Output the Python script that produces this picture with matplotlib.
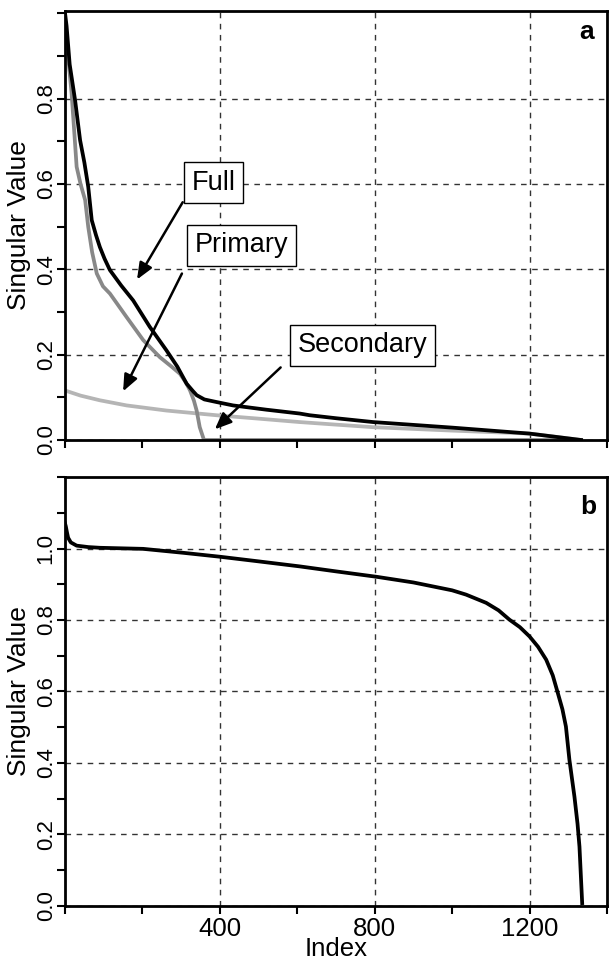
import numpy as np
import matplotlib.pyplot as plt
from matplotlib.ticker import MultipleLocator, FixedLocator, FixedFormatter

plt.rcParams['font.family'] = ['Liberation Sans', 'DejaVu Sans']

# panel a: singular value spectra (index, value)
full_idx = [0, 4, 12, 26, 39, 50, 60, 69, 80, 90, 102, 116, 145, 176, 219, 262,
            290, 314, 330, 340, 360, 391, 434, 520, 606, 632, 700, 796, 1000,
            1200, 1333]
full_val = [1.0, 0.97, 0.88, 0.796, 0.702, 0.65, 0.593, 0.515, 0.48, 0.452,
            0.425, 0.398, 0.362, 0.327, 0.265, 0.21, 0.172, 0.132, 0.115, 0.105,
            0.095, 0.089, 0.081, 0.071, 0.062, 0.058, 0.051, 0.042, 0.029,
            0.015, 0.0]

primary_idx = [0, 8, 17, 24, 30, 40, 52, 60, 70, 82, 98, 116, 159, 202, 245,
               275, 297, 312, 323, 333, 340, 348, 359, 1333]
primary_val = [0.96, 0.898, 0.812, 0.72, 0.64, 0.60, 0.562, 0.499, 0.44, 0.39,
               0.36, 0.343, 0.288, 0.234, 0.194, 0.172, 0.155, 0.135, 0.116,
               0.092, 0.069, 0.03, 0.0, 0.0]

secondary_idx = [0, 40, 90, 159, 262, 391, 500, 606, 700, 796, 1000, 1200, 1333]
secondary_val = [0.116, 0.104, 0.093, 0.081, 0.069, 0.058, 0.05, 0.042, 0.036,
                 0.03, 0.022, 0.015, 0.0]

# panel b: single spectrum
b_idx = [0, 2, 5, 8, 15, 30, 60, 90, 202, 305, 400, 500, 606, 700, 804, 900,
         950, 1000, 1036, 1088, 1120, 1148, 1175, 1200, 1222, 1243, 1260, 1273,
         1285, 1294, 1303, 1316, 1324, 1329, 1336]
b_val = [1.07, 1.062, 1.045, 1.03, 1.017, 1.008, 1.004, 1.002, 0.999, 0.988,
         0.977, 0.964, 0.95, 0.936, 0.921, 0.905, 0.894, 0.883, 0.871, 0.848,
         0.827, 0.801, 0.78, 0.754, 0.725, 0.689, 0.645, 0.596, 0.55, 0.502,
         0.409, 0.306, 0.23, 0.166, 0.008]

x_ticklabels = ['400', '800', '1200']

fig = plt.figure(figsize=(6.1, 9.59), dpi=100)
ax_a = fig.add_axes([0.1066, 0.5412, 0.8884, 0.4473])
ax_b = fig.add_axes([0.1066, 0.0553, 0.8884, 0.4473])


def style_axes(ax, ymax, ylabels):
    ax.set_xlim(0, 1400)
    ax.set_ylim(0, ymax)
    ax.xaxis.set_major_locator(FixedLocator([400, 800, 1200]))
    ax.xaxis.set_minor_locator(MultipleLocator(200))
    ax.yaxis.set_major_locator(FixedLocator([0.0, 0.2, 0.4, 0.6, 0.8, 1.0][:len(ylabels)]))
    ax.yaxis.set_major_formatter(FixedFormatter(ylabels))
    ax.yaxis.set_minor_locator(MultipleLocator(0.1))
    ax.grid(True, which='major', color='#333333', linestyle=(0, (4, 4)), linewidth=1.0)
    ax.tick_params(which='both', direction='out', width=1.5, length=6)
    ax.tick_params(axis='y', labelsize=16, pad=0)
    for lbl in ax.get_yticklabels():
        lbl.set_rotation(90)
        lbl.set_va('center')
    for s in ax.spines.values():
        s.set_linewidth(2)
    ax.set_ylabel('Singular Value', fontsize=19)
    ax.yaxis.set_label_coords(-0.062, 0.5)


style_axes(ax_a, 1.005, ['0.0', '0.2', '0.4', '0.6', '0.8'])
ax_a.tick_params(axis='x', labelbottom=False)

ax_a.plot(secondary_idx, secondary_val, color='#b5b5b5', lw=2.7, solid_joinstyle='round')
ax_a.plot(primary_idx, primary_val, color='#888888', lw=2.7, solid_joinstyle='round')
ax_a.plot(full_idx, full_val, color='black', lw=2.7, solid_joinstyle='round')

box = dict(boxstyle='square,pad=0.28', fc='white', ec='black', lw=1.0)
arrow = dict(arrowstyle='-|>,head_length=1.0,head_width=0.42', color='black', lw=1.8,
             shrinkA=0, shrinkB=0)
ax_a.annotate('', xy=(186, 0.376), xytext=(304, 0.557), arrowprops=arrow)
ax_a.annotate('', xy=(150, 0.114), xytext=(302, 0.390), arrowprops=arrow)
ax_a.annotate('', xy=(387, 0.025), xytext=(557, 0.170), arrowprops=arrow)
ax_a.text(383, 0.603, 'Full', fontsize=19.5, ha='center', va='center', bbox=box)
ax_a.text(455, 0.456, 'Primary', fontsize=19.5, ha='center', va='center', bbox=box)
ax_a.text(768, 0.222, 'Secondary', fontsize=19.5, ha='center', va='center', bbox=box)
ax_a.text(0.975, 0.95, 'a', transform=ax_a.transAxes, fontsize=19, fontweight='bold',
          ha='right', va='center')

style_axes(ax_b, 1.2, ['0.0', '0.2', '0.4', '0.6', '0.8', '1.0'])
ax_b.plot(b_idx, b_val, color='black', lw=2.7, solid_joinstyle='round')
ax_b.xaxis.set_major_formatter(FixedFormatter(x_ticklabels))
ax_b.tick_params(axis='x', labelsize=18.5, pad=2)
ax_b.set_xlabel('Index', fontsize=18.5)
ax_b.xaxis.set_label_coords(0.5, -0.072)
ax_b.text(0.98, 0.93, 'b', transform=ax_b.transAxes, fontsize=19, fontweight='bold',
          ha='right', va='center')

fig.savefig('out.png', dpi=100)
